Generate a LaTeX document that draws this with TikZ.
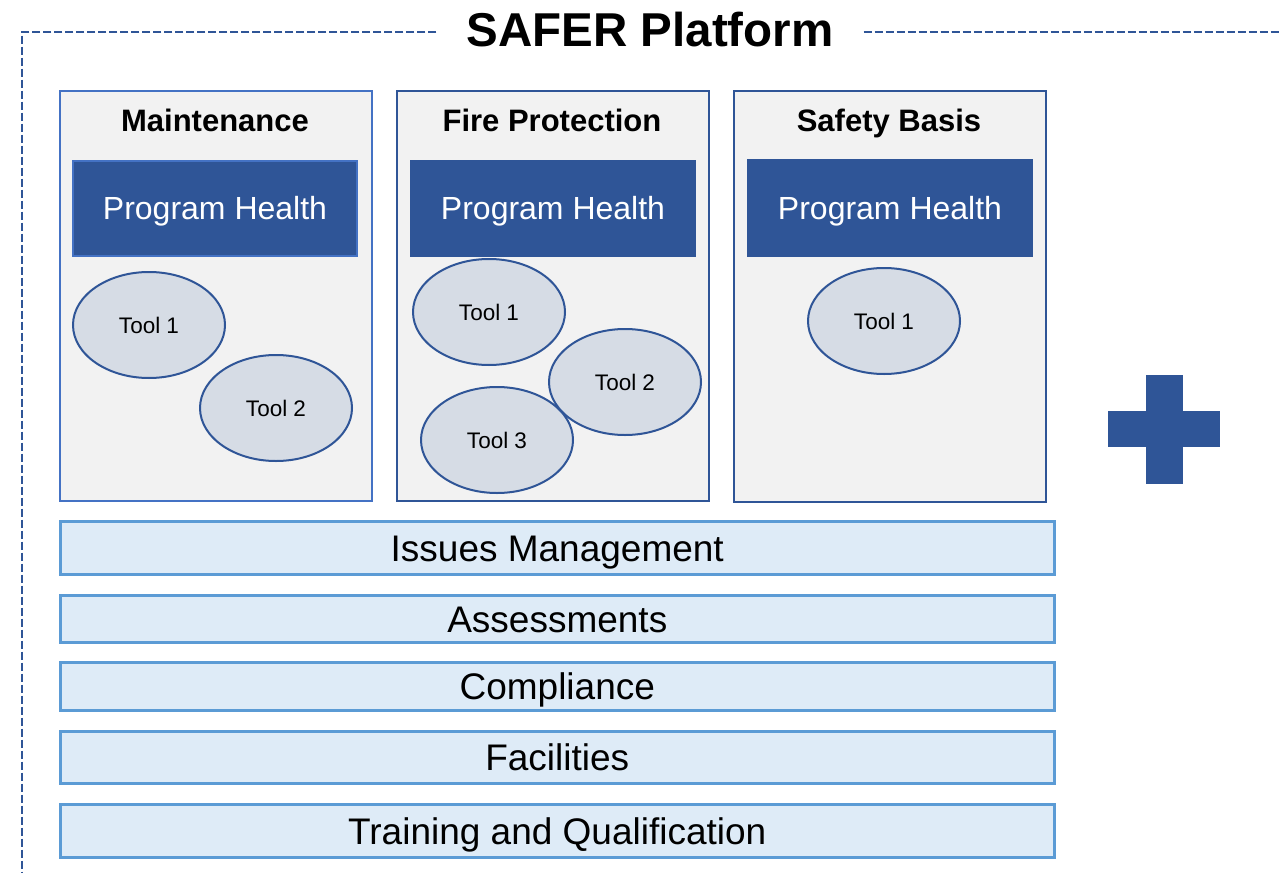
\documentclass[tikz,border=0pt]{standalone}
\usepackage{fontspec}
\setmainfont{Liberation Sans}
\usetikzlibrary{shapes.geometric}
\definecolor{dblue}{HTML}{2F5597}
\definecolor{mblue}{HTML}{4472C4}
\definecolor{lblue}{HTML}{5B9BD5}
\definecolor{barfill}{HTML}{DEEBF7}
\definecolor{boxfill}{HTML}{F2F2F2}
\definecolor{toolfill}{HTML}{D6DCE5}
\tikzset{
  area/.style={draw=dblue, line width=2pt, fill=boxfill, anchor=north west, minimum width=312pt, minimum height=410pt, inner sep=0pt},
  areatitle/.style={text height=22.2pt, text depth=0pt, font=\fontsize{31}{34}\selectfont\bfseries, text=black, anchor=center, inner sep=0pt},
  health/.style={text height=22.9pt, text depth=0pt, fill=dblue, draw=dblue, line width=2pt, anchor=north west, minimum width=284pt, minimum height=95pt, inner sep=0pt, text=white, font=\fontsize{32}{35}\selectfont},
  tool/.style={text height=16.1pt, text depth=0pt, ellipse, draw=dblue, line width=2pt, fill=toolfill, minimum width=152pt, minimum height=106pt, inner sep=0pt, font=\fontsize{22.5}{25}\selectfont},
  bar/.style={text height=26.5pt, text depth=0pt, draw=lblue, line width=2.5pt, fill=barfill, anchor=north west, minimum width=994pt, inner sep=0pt, font=\fontsize{37}{40}\selectfont},
  frame/.style={draw=dblue, line width=2.8pt, dash pattern=on 8pt off 3pt},
}
\begin{document}
\begin{tikzpicture}[x=1pt,y=-1pt]
\useasboundingbox (0,0) rectangle (1281,872);
% frame and title
\node[text height=34pt, text depth=0pt, font=\fontsize{47.5}{50}\selectfont\bfseries, inner xsep=30pt, inner ysep=0pt] (title) at (650,30) {SAFER Platform};
\coordinate (fl) at (22,32);
\coordinate (fb) at (22,872);
\coordinate (fr) at (1281,32);
\draw[frame] (title.west |- fl) -- (fl) -- (fb);
\draw[frame] (title.east |- fr) -- (fr);
% areas
\node[area, draw=mblue] (m) at (59,90) {};
\node[area] (f) at (396,90) {};
\node[area, minimum height=411pt] (s) at (733,90) {};
\node[areatitle] (mt) at (215,120.5) {Maintenance};
\node[areatitle] (ft) at (552,120.5) {Fire Protection};
\node[areatitle] (st) at (889,120.5) {Safety Basis};
\node[health, draw=mblue] (mh) at (72,160) {Program Health};
\node[health] (fh) at (410,160) {Program Health};
\node[health, minimum height=96pt] (sh) at (747,159) {Program Health};
% tools
\node[tool] (m1) at (149,325) {Tool 1};
\node[tool] (m2) at (276,408) {Tool 2};
\node[tool] (f1) at (489,312) {Tool 1};
\node[tool] (f3) at (497,440) {Tool 3};
\node[tool] (f2) at (625,382) {Tool 2};
\node[tool] (s1) at (884,321) {Tool 1};
% bars
\node[bar, minimum height=53pt] (b1) at (59,520) {Issues Management};
\node[bar, minimum height=47pt] (b2) at (59,594) {Assessments};
\node[bar, minimum height=48pt] (b3) at (59,661) {Compliance};
\node[bar, minimum height=52pt] (b4) at (59,730) {Facilities};
\node[bar, minimum height=53pt] (b5) at (59,803) {Training and Qualification};
% plus
\fill[dblue] (1146,375) rectangle (1183,484);
\fill[dblue] (1108,411) rectangle (1220,447);
\end{tikzpicture}
\end{document}
